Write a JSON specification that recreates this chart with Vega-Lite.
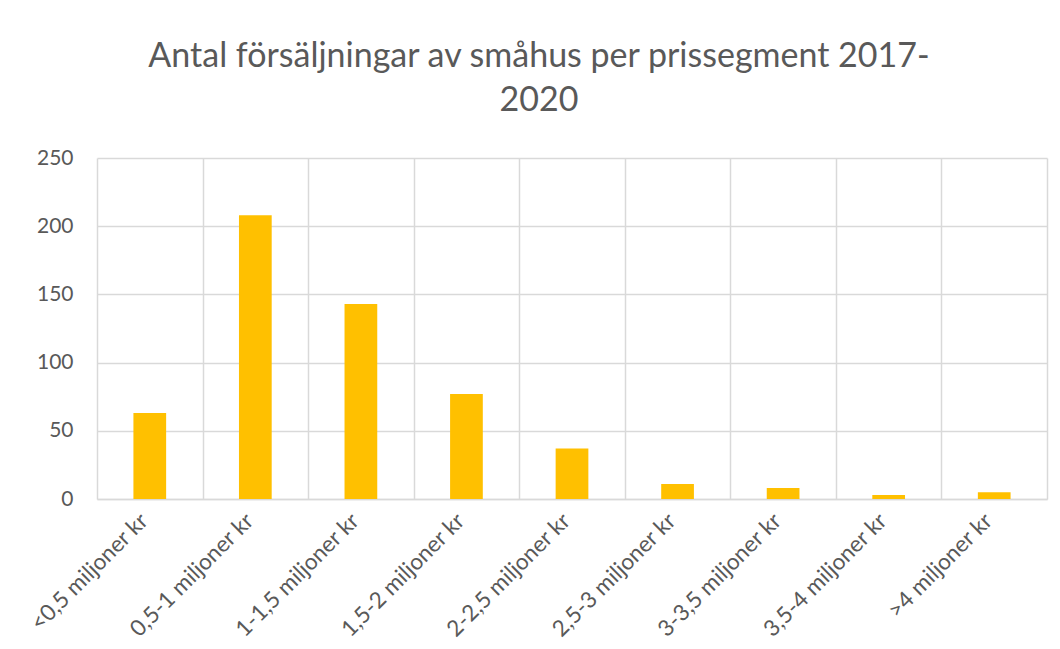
{
  "$schema": "https://vega.github.io/schema/vega-lite/v6.json",
  "autosize": "none",
  "width": 950,
  "height": 341,
  "padding": {"left": 97, "top": 158, "right": 13, "bottom": 150},
  "background": "white",
  "config": {
    "view": {"stroke": null},
    "font": "Lato"
  },
  "title": {
    "text": ["Antal försäljningar av småhus per prissegment 2017-", "2020"],
    "fontSize": 34,
    "font": "Lato",
    "fontWeight": "normal",
    "color": "#595959",
    "anchor": "middle",
    "dx": -33,
    "offset": 29,
    "lineHeight": 44
  },
  "data": {
    "values": [
      {"segment": "<0,5 miljoner kr", "antal": 63},
      {"segment": "0,5-1 miljoner kr", "antal": 208},
      {"segment": "1-1,5 miljoner kr", "antal": 143},
      {"segment": "1,5-2 miljoner kr", "antal": 77},
      {"segment": "2-2,5 miljoner kr", "antal": 37},
      {"segment": "2,5-3 miljoner kr", "antal": 11},
      {"segment": "3-3,5 miljoner kr", "antal": 8},
      {"segment": "3,5-4 miljoner kr", "antal": 3},
      {"segment": ">4 miljoner kr", "antal": 5}
    ]
  },
  "mark": {"type": "bar", "color": "#FFC000", "width": {"band": 0.31}},
  "encoding": {
    "x": {
      "field": "segment",
      "type": "nominal",
      "sort": null,
      "scale": {"paddingInner": 0, "paddingOuter": 0},
      "axis": {
        "title": null,
        "tickBand": "extent",
        "grid": true,
        "gridColor": "#D9D9D9",
        "gridWidth": 1.5,
        "ticks": false,
        "domainColor": "#D9D9D9",
        "domainWidth": 1.5,
        "labelAngle": -45,
        "labelAlign": "right",
        "labelBaseline": "middle",
        "labelFontSize": 22.5,
        "labelColor": "#595959",
        "labelPadding": 18,
        "labelOffset": -6,
        "labelFont": "Lato"
      }
    },
    "y": {
      "field": "antal",
      "type": "quantitative",
      "scale": {"domain": [0, 250]},
      "axis": {
        "title": null,
        "values": [0, 50, 100, 150, 200, 250],
        "grid": true,
        "gridColor": "#D9D9D9",
        "gridWidth": 1.5,
        "domain": false,
        "ticks": false,
        "labelFontSize": 21,
        "labelColor": "#595959",
        "labelPadding": 24,
        "labelFont": "Lato"
      }
    }
  }
}
